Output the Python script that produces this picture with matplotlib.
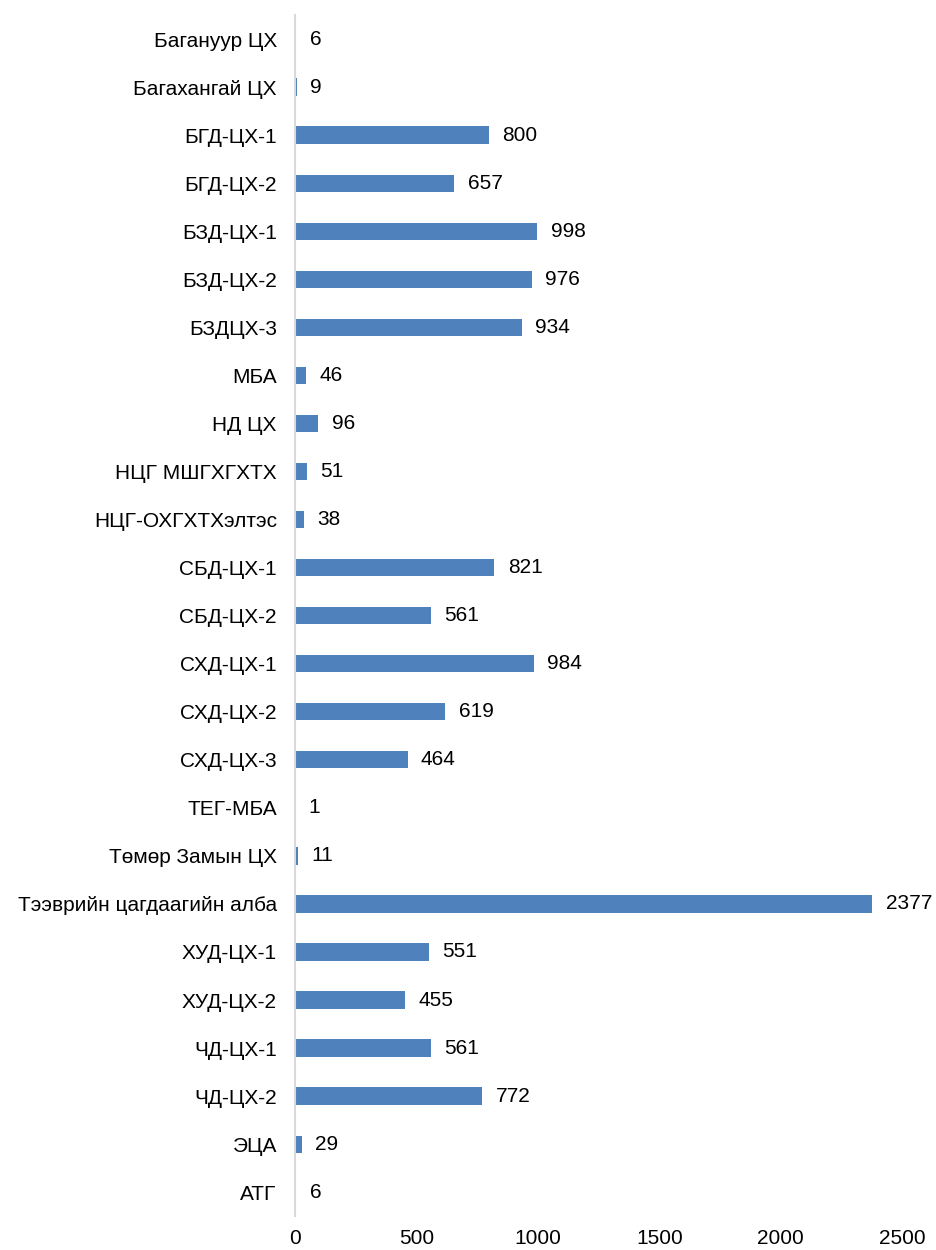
import matplotlib
matplotlib.use("Agg")
import matplotlib.pyplot as plt

plt.rcParams['font.family'] = ['Liberation Sans', 'DejaVu Sans']

categories = [
    "Багануур ЦХ", "Багахангай ЦХ", "БГД-ЦХ-1", "БГД-ЦХ-2", "БЗД-ЦХ-1",
    "БЗД-ЦХ-2", "БЗДЦХ-3", "МБА", "НД ЦХ", "НЦГ МШГХГХТХ",
    "НЦГ-ОХГХТХэлтэс", "СБД-ЦХ-1", "СБД-ЦХ-2", "СХД-ЦХ-1", "СХД-ЦХ-2",
    "СХД-ЦХ-3", "ТЕГ-МБА", "Төмөр Замын ЦХ", "Тээврийн цагдаагийн алба",
    "ХУД-ЦХ-1", "ХУД-ЦХ-2", "ЧД-ЦХ-1", "ЧД-ЦХ-2", "ЭЦА", "АТГ",
]
values = [6, 9, 800, 657, 998, 976, 934, 46, 96, 51, 38, 821, 561, 984,
          619, 464, 1, 11, 2377, 551, 455, 561, 772, 29, 6]
xticks = [0, 500, 1000, 1500, 2000, 2500]

fig = plt.figure(figsize=(9.36, 12.5), dpi=100)
ax = fig.add_axes([0.315, 0.027, 0.649, 0.961])

pos = list(range(len(categories)))
ax.barh(pos, values, height=0.36, color="#4F81BD")
for y, v in zip(pos, values):
    ax.text(v + 55, y, str(v), va="center", ha="left", fontsize=15)

ax.set_yticks(pos)
ax.set_yticklabels(categories, fontsize=15)
ax.set_ylim(len(categories) - 0.5, -0.5)
ax.set_xlim(0, 2500)
ax.set_xticks(xticks)
ax.set_xticklabels([str(t) for t in xticks], fontsize=15)
ax.tick_params(length=0)
ax.tick_params(axis="y", pad=13)
ax.tick_params(axis="x", pad=9)

for s in ["top", "right", "bottom"]:
    ax.spines[s].set_visible(False)
ax.spines["left"].set_color("#D9D9D9")
ax.spines["left"].set_linewidth(1.5)

fig.savefig("out.png", dpi=100)
